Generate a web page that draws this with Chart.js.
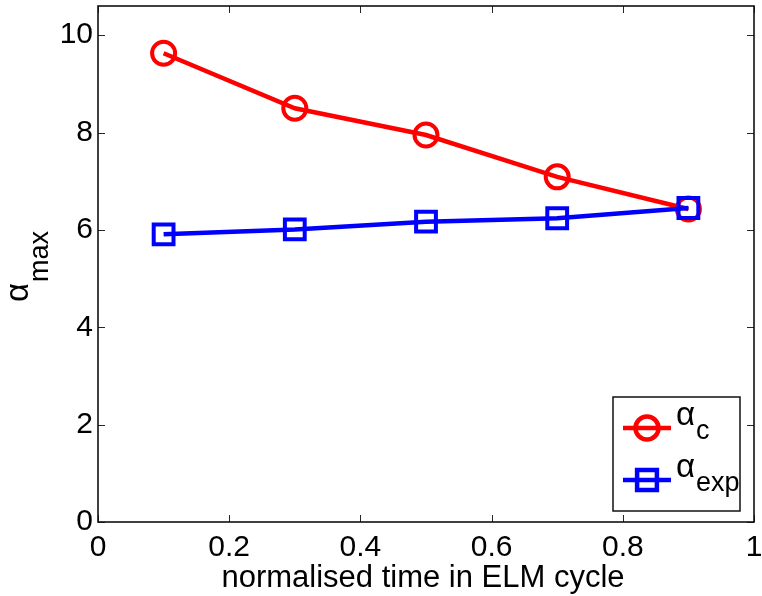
<!DOCTYPE html>
<html>
<head>
<meta charset="utf-8">
<script src="https://cdn.jsdelivr.net/npm/chart.js@4"></script>
<style>
  html, body { margin: 0; padding: 0; background: #fff; }
  #wrap { width: 762px; height: 596px; }
</style>
</head>
<body>
<div id="wrap"><canvas id="alphaChart" width="762" height="596"></canvas></div>
<script>
// normalised time points in the ELM cycle
const tElm = [0.1, 0.3, 0.5, 0.7, 0.9];
// critical and experimental alpha_max
const alphaC = [9.63, 8.50, 7.95, 7.09, 6.43];
const alphaExp = [5.91, 6.01, 6.17, 6.24, 6.45];

const xTicks = [0, 0.2, 0.4, 0.6, 0.8, 1];
const xTickLabels = ['0', '0.2', '0.4', '0.6', '0.8', '1'];
const yTicks = [0, 2, 4, 6, 8, 10];

const FONT = '"Liberation Sans", Arial, Helvetica, sans-serif';

const toPoints = (ys) => ys.map((y, i) => ({ x: tElm[i], y }));

// draws "α" followed by a lowered subscript at the current origin
function alphaSub(ctx, sub, x, y, shift) {
  ctx.font = '33px ' + FONT;
  ctx.fillText('α', x, y);
  const w = ctx.measureText('α').width;
  ctx.font = '27px ' + FONT;
  ctx.fillText(sub, x + w + 1, y + shift);
}

const matlabAxes = {
  id: 'matlabAxes',
  beforeDatasetsDraw(chart) {
    const { ctx, chartArea: a, scales: { x, y } } = chart;
    ctx.save();
    ctx.strokeStyle = '#262626';
    ctx.lineWidth = 1;
    // inward ticks on all four sides
    ctx.beginPath();
    x.ticks.forEach(t => {
      const px = Math.round(x.getPixelForValue(t.value)) + 0.5;
      ctx.moveTo(px, a.bottom); ctx.lineTo(px, a.bottom - 7);
      ctx.moveTo(px, a.top); ctx.lineTo(px, a.top + 7);
    });
    y.ticks.forEach(t => {
      const py = Math.round(y.getPixelForValue(t.value)) + 0.5;
      ctx.moveTo(a.left, py); ctx.lineTo(a.left + 7, py);
      ctx.moveTo(a.right, py); ctx.lineTo(a.right - 7, py);
    });
    ctx.stroke();
    ctx.lineWidth = 1.6;
    ctx.strokeStyle = '#111';
    ctx.strokeRect(a.left, a.top, a.right - a.left, a.bottom - a.top);
    ctx.restore();
  },
  afterDraw(chart) {
    const { ctx, chartArea: a } = chart;
    ctx.save();
    ctx.fillStyle = '#000';

    // x title
    ctx.font = '31px ' + FONT;
    ctx.textAlign = 'center';
    ctx.textBaseline = 'alphabetic';
    ctx.fillText('normalised time in ELM cycle', (a.left + a.right) / 2 - 3, 587);

    // y title, rotated
    ctx.save();
    ctx.translate(28, 302);
    ctx.rotate(-Math.PI / 2);
    ctx.textAlign = 'left';
    alphaSub(ctx, 'max', 0, 0, 20);
    ctx.restore();

    // legend box
    const bx = 613, by = 397, bw = 127, bh = 114;
    ctx.fillStyle = '#fff';
    ctx.fillRect(bx, by, bw, bh);
    ctx.lineWidth = 1.5;
    ctx.strokeStyle = '#111';
    ctx.strokeRect(bx, by, bw, bh);

    const entries = [
      { ds: chart.data.datasets[1], sub: 'c', ly: 428 },
      { ds: chart.data.datasets[0], sub: 'exp', ly: 480 }
    ];
    entries.forEach(e => {
      ctx.strokeStyle = e.ds.borderColor;
      ctx.lineWidth = e.ds.borderWidth;
      ctx.beginPath();
      ctx.moveTo(623, e.ly);
      ctx.lineTo(671, e.ly);
      ctx.stroke();
      ctx.fillStyle = 'rgba(0,0,0,0)';
      Chart.helpers.drawPoint(ctx, {
        pointStyle: e.ds.pointStyle,
        rotation: 0,
        radius: e.ds.pointRadius,
        borderWidth: e.ds.pointBorderWidth
      }, 647, e.ly);
      ctx.fillStyle = '#000';
      ctx.textAlign = 'left';
      alphaSub(ctx, e.sub, 676, e.ly - 3, 14);
    });
    ctx.restore();
  }
};

new Chart(document.getElementById('alphaChart'), {
  type: 'scatter',
  data: {
    datasets: [
      {
        label: 'α_exp',
        data: toPoints(alphaExp),
        showLine: true,
        borderColor: '#0000ff',
        borderWidth: 4.5,
        pointStyle: 'rect',
        pointRadius: 14,
        pointBorderWidth: 4,
        pointBorderColor: '#0000ff',
        pointBackgroundColor: 'rgba(0,0,0,0)',
        order: 0
      },
      {
        label: 'α_c',
        data: toPoints(alphaC),
        showLine: true,
        borderColor: '#ff0000',
        borderWidth: 4.5,
        pointStyle: 'circle',
        pointRadius: 11.5,
        pointBorderWidth: 4,
        pointBorderColor: '#ff0000',
        pointBackgroundColor: 'rgba(0,0,0,0)',
        order: 1
      }
    ]
  },
  options: {
    responsive: false,
    animation: false,
    events: [],
    layout: { autoPadding: false, padding: { top: 6, right: 8, left: 0, bottom: 0 } },
    scales: {
      x: {
        type: 'linear',
        min: 0,
        max: 1,
        afterBuildTicks: s => { s.ticks = xTicks.map(v => ({ value: v })); },
        afterFit: s => { s.height = 74; s.paddingLeft = 0; s.paddingRight = 0; },
        grid: { display: false, drawTicks: false },
        border: { display: false },
        ticks: {
          padding: 8,
          color: '#000',
          maxRotation: 0,
          autoSkip: false,
          font: { family: FONT, size: 30 },
          callback: (v, i) => xTickLabels[i]
        }
      },
      y: {
        type: 'linear',
        min: 0,
        max: 10.6,
        afterBuildTicks: s => { s.ticks = yTicks.map(v => ({ value: v })); },
        afterFit: s => { s.width = 98; s.paddingTop = 0; s.paddingBottom = 0; },
        grid: { display: false, drawTicks: false },
        border: { display: false },
        ticks: {
          padding: 5,
          color: '#000',
          autoSkip: false,
          font: { family: FONT, size: 30, lineHeight: 0.3 },
          callback: v => String(v)
        }
      }
    },
    plugins: {
      legend: { display: false },
      tooltip: { enabled: false }
    }
  },
  plugins: [matlabAxes]
});
</script>
</body>
</html>
